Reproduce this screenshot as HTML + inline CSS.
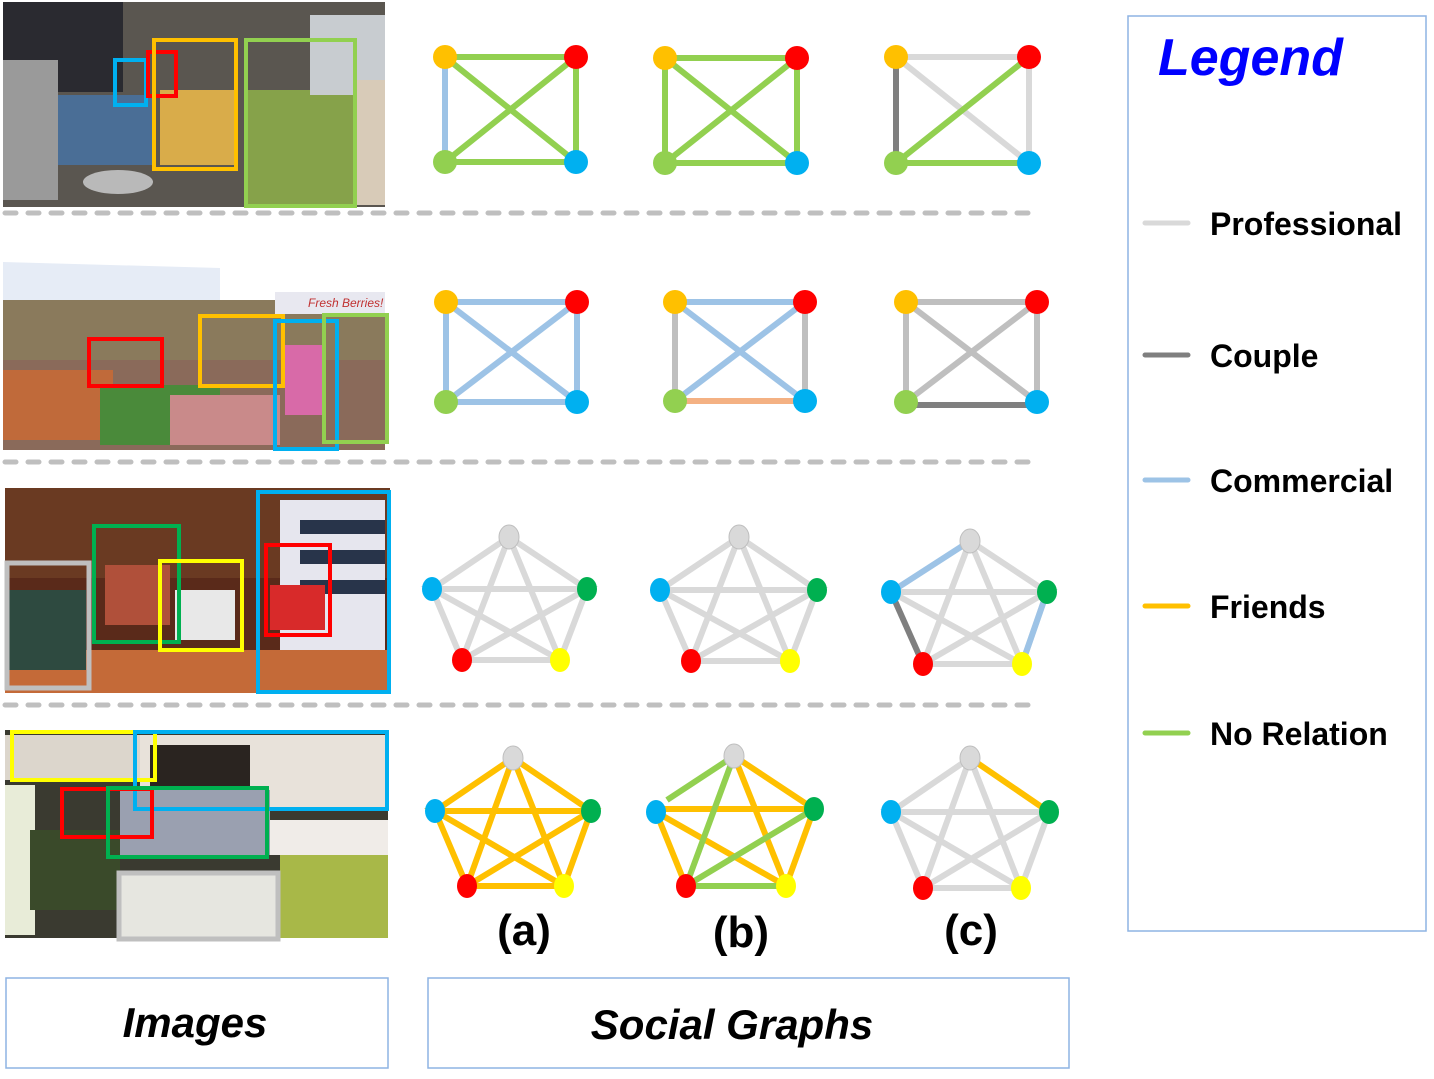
<!DOCTYPE html>
<html><head><meta charset="utf-8"><style>
html,body{margin:0;padding:0;background:#fff;width:1434px;height:1079px;overflow:hidden}
svg{display:block}
text{font-family:"Liberation Sans",sans-serif}
</style></head><body>
<svg width="1434" height="1079" viewBox="0 0 1434 1079" xmlns="http://www.w3.org/2000/svg">
<g>
<rect x="3" y="2" width="382" height="205" fill="#5a5650"/>
<rect x="3" y="2" width="120" height="90" fill="#2a2a30"/>
<rect x="3" y="60" width="55" height="140" fill="#9a9a9a"/>
<rect x="58" y="95" width="95" height="70" fill="#4a6e96"/>
<rect x="160" y="90" width="75" height="75" fill="#d9ac4a"/>
<rect x="245" y="90" width="110" height="117" fill="#86a24a"/>
<rect x="310" y="15" width="75" height="80" fill="#c8ccd0"/>
<rect x="355" y="80" width="30" height="125" fill="#d8cbb8"/>
<ellipse cx="118" cy="182" rx="35" ry="12" fill="#b9b9b9"/>
<rect x="115" y="60" width="31" height="45" fill="none" stroke="#00b0f0" stroke-width="4"/>
<rect x="148" y="52" width="28" height="44" fill="none" stroke="#ff0000" stroke-width="4"/>
<rect x="154" y="40" width="82" height="129" fill="none" stroke="#ffc000" stroke-width="4"/>
<rect x="246" y="40" width="109" height="166" fill="none" stroke="#92d050" stroke-width="4"/>
</g>
<g>
<rect x="3" y="245" width="382" height="205" fill="#ffffff"/>
<polygon points="3,262 220,268 220,300 3,300" fill="#e6ecf6"/>
<rect x="3" y="300" width="382" height="60" fill="#8a7a5c"/>
<rect x="3" y="360" width="382" height="90" fill="#8a6a5a"/>
<rect x="3" y="370" width="110" height="70" fill="#c06a3a"/>
<rect x="100" y="385" width="120" height="60" fill="#4a8a3a"/>
<rect x="170" y="395" width="110" height="50" fill="#c98a8a"/>
<rect x="285" y="345" width="40" height="70" fill="#d86aa8"/>
<rect x="275" y="292" width="110" height="22" fill="#e8e8f0"/>
<text x="308" y="307" font-size="12" fill="#c03030" font-style="italic">Fresh Berries!</text>
<rect x="89" y="339" width="73" height="47" fill="none" stroke="#ff0000" stroke-width="4"/>
<rect x="200" y="316" width="83" height="70" fill="none" stroke="#ffc000" stroke-width="4"/>
<rect x="275" y="321" width="62" height="128" fill="none" stroke="#00b0f0" stroke-width="4"/>
<rect x="324" y="315" width="63" height="127" fill="none" stroke="#92d050" stroke-width="4"/>
</g>
<g>
<rect x="5" y="488" width="385" height="205" fill="#5a2a1a"/>
<rect x="5" y="488" width="385" height="90" fill="#6a3a22"/>
<rect x="5" y="650" width="385" height="43" fill="#c46a38"/>
<rect x="105" y="565" width="65" height="60" fill="#b0503a"/>
<rect x="175" y="590" width="60" height="50" fill="#e8e8e8"/>
<rect x="8" y="590" width="78" height="80" fill="#2e4a40"/>
<rect x="280" y="500" width="105" height="150" fill="#e6e6ee"/>
<rect x="300" y="520" width="85" height="14" fill="#28344a"/>
<rect x="300" y="550" width="85" height="14" fill="#28344a"/>
<rect x="300" y="580" width="85" height="14" fill="#28344a"/>
<rect x="270" y="585" width="55" height="45" fill="#d82a2a"/>
<rect x="7" y="563" width="82" height="125" fill="none" stroke="#bfbfbf" stroke-width="5"/>
<rect x="94" y="526" width="85" height="116" fill="none" stroke="#00b050" stroke-width="4"/>
<rect x="160" y="561" width="82" height="89" fill="none" stroke="#ffff00" stroke-width="4"/>
<rect x="258" y="492" width="131" height="200" fill="none" stroke="#00b0f0" stroke-width="4"/>
<rect x="266" y="545" width="64" height="90" fill="none" stroke="#ff0000" stroke-width="4"/>
</g>
<g>
<rect x="5" y="730" width="383" height="208" fill="#3a3a30"/>
<rect x="5" y="735" width="150" height="45" fill="#dcd6cc"/>
<rect x="140" y="735" width="248" height="75" fill="#e8e2da"/>
<rect x="150" y="745" width="100" height="55" fill="#2a2420"/>
<rect x="5" y="785" width="30" height="150" fill="#e8ecd8"/>
<rect x="30" y="830" width="90" height="80" fill="#3a4a2a"/>
<rect x="120" y="790" width="150" height="65" fill="#9aa0b0"/>
<rect x="120" y="875" width="160" height="62" fill="#e6e6e0"/>
<rect x="280" y="850" width="108" height="88" fill="#a8b848"/>
<rect x="270" y="820" width="118" height="35" fill="#f0ece8"/>
<rect x="12" y="732" width="143" height="48" fill="none" stroke="#ffff00" stroke-width="4"/>
<rect x="135" y="732" width="252" height="77" fill="none" stroke="#00b0f0" stroke-width="4"/>
<rect x="62" y="789" width="90" height="48" fill="none" stroke="#ff0000" stroke-width="4"/>
<rect x="108" y="788" width="159" height="69" fill="none" stroke="#00b050" stroke-width="4"/>
<rect x="119" y="873" width="159" height="66" fill="none" stroke="#bfbfbf" stroke-width="5"/>
</g>

<g stroke="#bfbfbf" stroke-width="5" stroke-dasharray="11 12" stroke-linecap="round">
<line x1="5" y1="213" x2="1040" y2="213"/>
<line x1="5" y1="462" x2="1040" y2="462"/>
<line x1="5" y1="705" x2="1040" y2="705"/>
</g>

<g stroke-width="6" fill="none">
<line x1="445" y1="57" x2="445" y2="162" stroke="#9dc3e6"/>
<line x1="445" y1="57" x2="576" y2="57" stroke="#92d050"/>
<line x1="576" y1="57" x2="576" y2="162" stroke="#92d050"/>
<line x1="445" y1="162" x2="576" y2="162" stroke="#92d050"/>
<line x1="445" y1="57" x2="576" y2="162" stroke="#92d050"/>
<line x1="576" y1="57" x2="445" y2="162" stroke="#92d050"/>
<line x1="665" y1="58" x2="665" y2="163" stroke="#92d050"/>
<line x1="665" y1="58" x2="797" y2="58" stroke="#92d050"/>
<line x1="797" y1="58" x2="797" y2="163" stroke="#92d050"/>
<line x1="665" y1="163" x2="797" y2="163" stroke="#92d050"/>
<line x1="665" y1="58" x2="797" y2="163" stroke="#92d050"/>
<line x1="797" y1="58" x2="665" y2="163" stroke="#92d050"/>
<line x1="896" y1="57" x2="1029" y2="57" stroke="#d9d9d9"/>
<line x1="1029" y1="57" x2="1029" y2="163" stroke="#d9d9d9"/>
<line x1="896" y1="57" x2="1029" y2="163" stroke="#d9d9d9"/>
<line x1="896" y1="57" x2="896" y2="163" stroke="#7f7f7f"/>
<line x1="896" y1="163" x2="1029" y2="163" stroke="#92d050"/>
<line x1="1029" y1="57" x2="896" y2="163" stroke="#92d050"/>
<g stroke="#9dc3e6">
<line x1="446" y1="302" x2="577" y2="302"/><line x1="446" y1="302" x2="446" y2="402"/>
<line x1="577" y1="302" x2="577" y2="402"/><line x1="446" y1="402" x2="577" y2="402"/>
<line x1="446" y1="302" x2="577" y2="402"/><line x1="577" y1="302" x2="446" y2="402"/>
</g>
<line x1="675" y1="302" x2="675" y2="401" stroke="#bfbfbf"/>
<line x1="805" y1="302" x2="805" y2="401" stroke="#bfbfbf"/>
<line x1="675" y1="401" x2="805" y2="401" stroke="#f4b183"/>
<line x1="675" y1="302" x2="805" y2="302" stroke="#9dc3e6"/>
<line x1="675" y1="302" x2="805" y2="401" stroke="#9dc3e6"/>
<line x1="805" y1="302" x2="675" y2="401" stroke="#9dc3e6"/>
<g stroke="#bfbfbf">
<line x1="906" y1="302" x2="1037" y2="302"/><line x1="906" y1="302" x2="906" y2="402"/>
<line x1="1037" y1="302" x2="1037" y2="402"/>
<line x1="906" y1="302" x2="1037" y2="402"/><line x1="1037" y1="302" x2="906" y2="402"/>
</g>
<line x1="906" y1="405" x2="1037" y2="405" stroke="#7f7f7f"/>
<g stroke="#d9d9d9">
<polyline points="509,537 432,589 462,660 560,660 587,589 509,537"/>
<polyline points="509,537 462,660 587,589 432,589 560,660 509,537"/>
</g>
<g stroke="#d9d9d9">
<polyline points="739,537 660,590 691,661 790,661 817,590 739,537"/>
<polyline points="739,537 691,661 817,590 660,590 790,661 739,537"/>
</g>
<g stroke="#d9d9d9">
<polyline points="923,664 1022,664 1047,592 970,541"/>
<polyline points="970,541 923,664 1047,592 891,592 1022,664 970,541"/>
</g>
<line x1="970" y1="541" x2="891" y2="592" stroke="#9dc3e6"/>
<line x1="891" y1="592" x2="923" y2="664" stroke="#7f7f7f"/>
<line x1="1047" y1="592" x2="1022" y2="664" stroke="#9dc3e6"/>
<g stroke="#ffc000">
<polyline points="513,758 435,811 467,886 564,886 591,811 513,758"/>
<polyline points="513,758 467,886 591,811 435,811 564,886 513,758"/>
</g>
<g stroke="#ffc000">
<line x1="734" y1="756" x2="814" y2="809"/>
<line x1="734" y1="756" x2="786" y2="886"/>
<line x1="656" y1="812" x2="686" y2="886"/>
<line x1="656" y1="809" x2="814" y2="809"/>
<line x1="656" y1="812" x2="786" y2="886"/>
<line x1="814" y1="809" x2="786" y2="886"/>
</g>
<g stroke="#92d050">
<line x1="734" y1="756" x2="667" y2="800"/>
<line x1="734" y1="756" x2="686" y2="886"/>
<line x1="686" y1="886" x2="814" y2="809"/>
<line x1="686" y1="886" x2="786" y2="886"/>
</g>
<g stroke="#d9d9d9">
<polyline points="970,758 891,812 923,888 1021,888 1049,812"/>
<polyline points="970,758 923,888 1049,812 891,812 1021,888 970,758"/>
</g>
<line x1="970" y1="758" x2="1049" y2="812" stroke="#ffc000"/>
</g>

<g>
<circle cx="445" cy="57" r="12" fill="#ffc000"/><circle cx="576" cy="57" r="12" fill="#ff0000"/><circle cx="445" cy="162" r="12" fill="#92d050"/><circle cx="576" cy="162" r="12" fill="#00b0f0"/>
<circle cx="665" cy="58" r="12" fill="#ffc000"/><circle cx="797" cy="58" r="12" fill="#ff0000"/><circle cx="665" cy="163" r="12" fill="#92d050"/><circle cx="797" cy="163" r="12" fill="#00b0f0"/>
<circle cx="896" cy="57" r="12" fill="#ffc000"/><circle cx="1029" cy="57" r="12" fill="#ff0000"/><circle cx="896" cy="163" r="12" fill="#92d050"/><circle cx="1029" cy="163" r="12" fill="#00b0f0"/>
<circle cx="446" cy="302" r="12" fill="#ffc000"/><circle cx="577" cy="302" r="12" fill="#ff0000"/><circle cx="446" cy="402" r="12" fill="#92d050"/><circle cx="577" cy="402" r="12" fill="#00b0f0"/>
<circle cx="675" cy="302" r="12" fill="#ffc000"/><circle cx="805" cy="302" r="12" fill="#ff0000"/><circle cx="675" cy="401" r="12" fill="#92d050"/><circle cx="805" cy="401" r="12" fill="#00b0f0"/>
<circle cx="906" cy="302" r="12" fill="#ffc000"/><circle cx="1037" cy="302" r="12" fill="#ff0000"/><circle cx="906" cy="402" r="12" fill="#92d050"/><circle cx="1037" cy="402" r="12" fill="#00b0f0"/>

<ellipse cx="509" cy="537" rx="10" ry="12" fill="#d9d9d9" stroke="#bfbfbf"/><ellipse cx="432" cy="589" rx="10" ry="12" fill="#00b0f0"/><ellipse cx="587" cy="589" rx="10" ry="12" fill="#00b050"/><ellipse cx="462" cy="660" rx="10" ry="12" fill="#ff0000"/><ellipse cx="560" cy="660" rx="10" ry="12" fill="#ffff00"/>
<ellipse cx="739" cy="537" rx="10" ry="12" fill="#d9d9d9" stroke="#bfbfbf"/><ellipse cx="660" cy="590" rx="10" ry="12" fill="#00b0f0"/><ellipse cx="817" cy="590" rx="10" ry="12" fill="#00b050"/><ellipse cx="691" cy="661" rx="10" ry="12" fill="#ff0000"/><ellipse cx="790" cy="661" rx="10" ry="12" fill="#ffff00"/>
<ellipse cx="970" cy="541" rx="10" ry="12" fill="#d9d9d9" stroke="#bfbfbf"/><ellipse cx="891" cy="592" rx="10" ry="12" fill="#00b0f0"/><ellipse cx="1047" cy="592" rx="10" ry="12" fill="#00b050"/><ellipse cx="923" cy="664" rx="10" ry="12" fill="#ff0000"/><ellipse cx="1022" cy="664" rx="10" ry="12" fill="#ffff00"/>

<ellipse cx="513" cy="758" rx="10" ry="12" fill="#d9d9d9" stroke="#bfbfbf"/><ellipse cx="435" cy="811" rx="10" ry="12" fill="#00b0f0"/><ellipse cx="591" cy="811" rx="10" ry="12" fill="#00b050"/><ellipse cx="467" cy="886" rx="10" ry="12" fill="#ff0000"/><ellipse cx="564" cy="886" rx="10" ry="12" fill="#ffff00"/>
<ellipse cx="734" cy="756" rx="10" ry="12" fill="#d9d9d9" stroke="#bfbfbf"/><ellipse cx="656" cy="812" rx="10" ry="12" fill="#00b0f0"/><ellipse cx="814" cy="809" rx="10" ry="12" fill="#00b050"/><ellipse cx="686" cy="886" rx="10" ry="12" fill="#ff0000"/><ellipse cx="786" cy="886" rx="10" ry="12" fill="#ffff00"/>
<ellipse cx="970" cy="758" rx="10" ry="12" fill="#d9d9d9" stroke="#bfbfbf"/><ellipse cx="891" cy="812" rx="10" ry="12" fill="#00b0f0"/><ellipse cx="1049" cy="812" rx="10" ry="12" fill="#00b050"/><ellipse cx="923" cy="888" rx="10" ry="12" fill="#ff0000"/><ellipse cx="1021" cy="888" rx="10" ry="12" fill="#ffff00"/>
</g>

<g font-size="44" font-weight="bold" text-anchor="middle" fill="#000">
<text x="524" y="945">(a)</text>
<text x="741" y="947">(b)</text>
<text x="971" y="945">(c)</text>
</g>

<rect x="6" y="978" width="382" height="90" fill="none" stroke="#8eb4e3" stroke-width="1.5"/>
<text x="195" y="1037" font-size="42" font-style="italic" font-weight="bold" text-anchor="middle">Images</text>
<rect x="428" y="978" width="641" height="90" fill="none" stroke="#8eb4e3" stroke-width="1.5"/>
<text x="732" y="1039" font-size="42" font-style="italic" font-weight="bold" text-anchor="middle">Social Graphs</text>

<rect x="1128" y="16" width="298" height="915" fill="none" stroke="#8eb4e3" stroke-width="1.5"/>
<text x="1158" y="75" font-size="52" font-style="italic" font-weight="bold" fill="#0000ff">Legend</text>
<g stroke-width="5" stroke-linecap="round">
<line x1="1145" y1="223" x2="1188" y2="223" stroke="#d9d9d9"/>
<line x1="1145" y1="355" x2="1188" y2="355" stroke="#7f7f7f"/>
<line x1="1145" y1="480" x2="1188" y2="480" stroke="#9dc3e6"/>
<line x1="1145" y1="606" x2="1188" y2="606" stroke="#ffc000"/>
<line x1="1145" y1="733" x2="1188" y2="733" stroke="#92d050"/>
</g>
<g font-size="32" font-weight="bold" fill="#000">
<text x="1210" y="235">Professional</text>
<text x="1210" y="367">Couple</text>
<text x="1210" y="492">Commercial</text>
<text x="1210" y="618">Friends</text>
<text x="1210" y="745">No Relation</text>
</g>
</svg>
</body></html>
